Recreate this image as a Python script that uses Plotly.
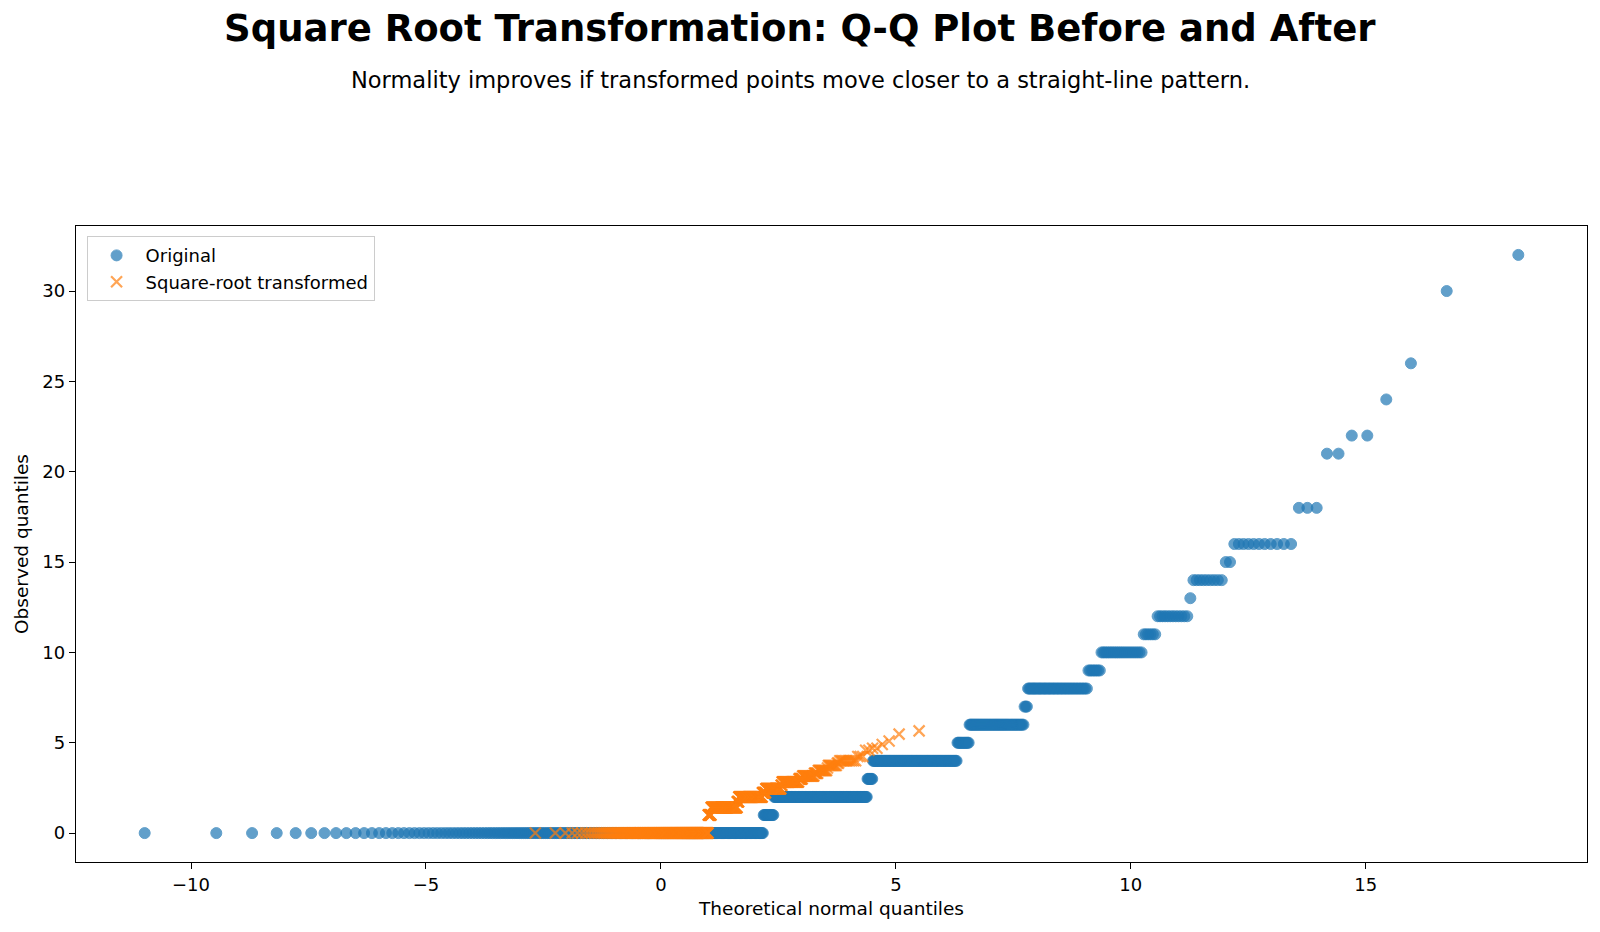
import numpy as np
import plotly.graph_objects as go
from statistics import NormalDist

values = [0, 1, 2, 3, 4, 5, 6, 7, 8, 9, 10, 11, 12, 13, 14, 15, 16, 18, 21, 22, 24, 26, 30, 32]
counts = [263, 13, 120, 7, 101, 13, 53, 3, 45, 8, 22, 6, 12, 1, 9, 2, 11, 3, 2, 2, 1, 1, 1, 1]

series_names = ["Original", "Square-root transformed"]
title_text = "Square Root Transformation: Q-Q Plot Before and After"
subtitle_text = "Normality improves if transformed points move closer to a straight-line pattern."
x_label = "Theoretical normal quantiles"
y_label = "Observed quantiles"

# Q-Q computation (theoretical normal quantiles scaled by sample mean / std)
orig = np.repeat(np.array(values, dtype=float), counts)
sqrt_t = np.sqrt(orig)
n = len(orig)
nd = NormalDist()
z = np.array([nd.inv_cdf((i - 0.5) / n) for i in range(1, n + 1)])


def qq(sample):
    s = np.sort(sample)
    return s.mean() + s.std() * z, s


x1, y1 = qq(orig)
x2, y2 = qq(sqrt_t)

BLUE = "#1f77b4"
ORANGE = "#ff7f0e"
FONT = "DejaVu Sans"

W, H = 1600, 932
ML, MR, MT, MB = 76, 13, 226, 70
PW, PH = W - ML - MR, H - MT - MB

fig = go.Figure()
fig.add_trace(go.Scatter(
    x=x1, y=y1, mode="markers", name=series_names[0],
    marker=dict(symbol="circle", size=11, color=BLUE, opacity=0.7,
                line=dict(color=BLUE, width=1)),
))
fig.add_trace(go.Scatter(
    x=x2, y=y2, mode="markers", name=series_names[1],
    marker=dict(symbol="x-thin", size=11, color=ORANGE, opacity=0.7,
                line=dict(color=ORANGE, width=2.2)),
))

allx = np.concatenate([x1, x2])
ally = np.concatenate([y1, y2])
xpad = 0.05 * (allx.max() - allx.min())
ypad = 0.05 * (ally.max() - ally.min())

axis_common = dict(
    showline=True, linecolor="black", linewidth=1.3, mirror=True,
    ticks="outside", ticklen=6, tickwidth=1.3, tickcolor="black",
    showgrid=False, zeroline=False,
    tickfont=dict(family=FONT, size=18, color="black"),
    title_font=dict(family=FONT, size=18.5, color="black"),
)

fx = (W / 2 - ML) / PW  # figure centre in paper coords

fig.update_layout(
    width=W, height=H,
    margin=dict(l=ML, r=MR, t=MT, b=MB),
    paper_bgcolor="white", plot_bgcolor="white",
    font=dict(family=FONT, color="black"),
    showlegend=True,
    legend=dict(
        x=0.007, y=0.984, xanchor="left", yanchor="top",
        bgcolor="rgba(255,255,255,0.8)", bordercolor="#cccccc", borderwidth=1,
        font=dict(family=FONT, size=18, color="black"),
        tracegroupgap=0, itemwidth=48,
    ),
    xaxis=dict(range=[allx.min() - xpad, allx.max() + xpad], dtick=5,
               title=dict(text=x_label, standoff=8), **axis_common),
    yaxis=dict(range=[ally.min() - ypad, ally.max() + ypad], dtick=5,
               title=dict(text=y_label, standoff=8), **axis_common),
    annotations=[
        dict(text="<b>" + title_text + "</b>", xref="paper", yref="paper",
             x=fx, y=(H - MB - 29) / PH, xanchor="center", yanchor="middle",
             showarrow=False, font=dict(family=FONT, size=37, color="black")),
        dict(text=subtitle_text, xref="paper", yref="paper",
             x=fx, y=(H - MB - 80) / PH, xanchor="center", yanchor="middle",
             showarrow=False, font=dict(family=FONT, size=22.5, color="black")),
    ],
)

fig.write_html("out.html")
